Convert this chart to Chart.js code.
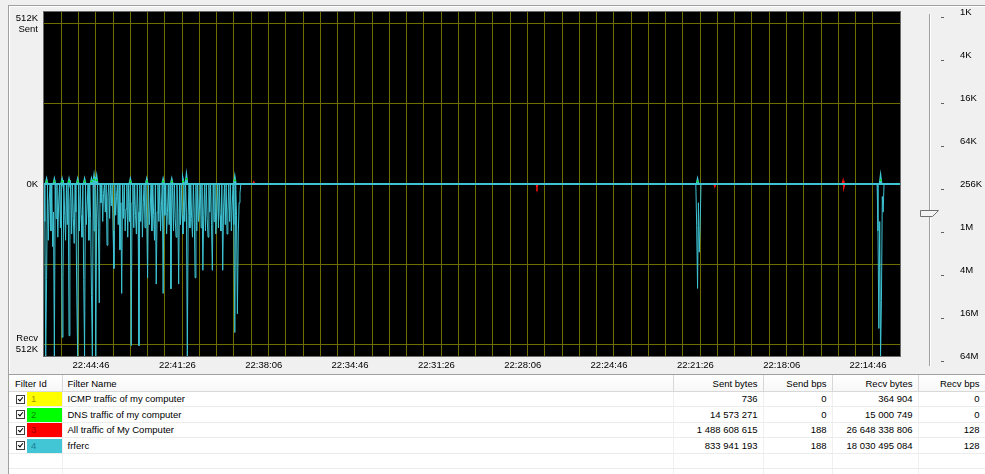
<!DOCTYPE html>
<html>
<head>
<meta charset="utf-8">
<script src="https://cdn.jsdelivr.net/npm/chart.js@4.4.0/dist/chart.umd.min.js"></script>
<style>
  html, body { margin: 0; padding: 0; }
  body { width: 985px; height: 474px; background: #f0f0f0; position: relative; overflow: hidden;
         font-family: 'Liberation Sans', Arial, sans-serif; font-size: 9.5px; color: #000; }
  #frame { position: absolute; left: 8px; top: 5px; width: 977px; height: 369px;
           border-left: 1px solid #a0a0a0; border-top: 1px solid #a0a0a0; box-shadow: inset 1px 1px 0 #fff; }
  #chartBox { position: absolute; left: 0; top: 0; width: 985px; height: 372px; }
  #tableBox { position: absolute; left: 8px; top: 374px; width: 977px; height: 100px; background: #fff;
              border-left: 1px solid #a0a0a0; border-top: 1px solid #a0a0a0; }
  table { border-collapse: collapse; table-layout: fixed; width: 976px; }
  th { height: 16px; padding: 0 5px; font-weight: normal; text-align: left; white-space: nowrap;
       background: linear-gradient(#ffffff, #f7f7f7); border-right: 1px solid #d8d8d8; border-bottom: 1px solid #d8d8d8; }
  td { height: 14px; line-height: 14px; padding: 0 5px; white-space: nowrap;
       border-right: 1px solid #f0f0f0; border-bottom: 1px solid #ececec; }
  th.num, td.num { text-align: right; }
  th.first { padding-left: 6px; }
  td.first { padding: 0; }
  .cb { display: inline-block; position: relative; width: 7px; height: 7px; margin-left: 7px; vertical-align: middle;
        border: 1px solid #404040; background: #fff; }
  .cb::after { content: ''; position: absolute; left: 2px; top: 0px; width: 2px; height: 4px;
               border-right: 1.5px solid #000; border-bottom: 1.5px solid #000; transform: rotate(40deg); }
  .sw { display: inline-block; width: 31px; height: 14px; margin-left: 2px; padding-left: 4px; vertical-align: middle; }
</style>
</head>
<body>
<div id="frame"></div>
<div id="chartBox"><canvas id="traffic" width="985" height="372"></canvas></div>
<div id="tableBox"><table id="filters"></table></div>
<script>
// time axis: seconds after 22:00:00
const baseHour = 22
const xStart = 2795   // left edge, 22:46:35
const xEnd = 812      // right edge, 22:13:32
const gridStep = 40
const gridCount = 48
const xTickLabels = ['22:44:46', '22:41:26', '22:38:06', '22:34:46', '22:31:26',
                     '22:28:06', '22:24:46', '22:21:26', '22:18:06', '22:14:46']
const yTickValues = [512, 256, 0, -256, -512]
const yTickLabels = [['512K', 'Sent'], '', '0K', '', ['Recv', '512K']]
const zoomLabels = ['1K', '4K', '16K', '64K', '256K', '1M', '4M', '16M', '64M']
const zoomLevel = 4.67

// busy period at the start, one sample every 2 s (KB, recv is negative)
const denseStep = 2
const recvDense = [
  0, -120, -550, -305, 0, -180, -60, 0, -150, 0,
  -200, -90, -550, 0, -110, 0, -170, -60, 0, -140,
  0, -490, -300, 0, -100, -180, 0, -130, 0, -485,
  -60, 0, -160, 0, -110, -190, 0, -90, -363, -550,
  0, -150, 0, -100, -170, 0, -305, -550, 0, -130,
  -70, 0, -180, 0, -110, -356, -550, 0, -150, 0,
  -550, -90, 0, -140, -380, 0, -60, 0, -120, -30,
  0, -90, 0, -196, -40, 0, -110, 0, -70, 0,
  -150, -270, 0, -100, -40, 0, -130, 0, -210, -60,
  -350, 0, -110, 0, -150, -80, 0, -170, 0, -120,
  0, -517, -60, 0, -140, 0, -100, -160, 0, -90,
  -517, 0, -120, 0, -170, -60, 0, -140, 0, -110,
  -300, 0, -130, -80, 0, -150, 0, -100, -180, 0,
  -320, -90, 0, -120, 0, -150, -70, 0, -350, 0,
  -100, 0, -160, -90, 0, -130, 0, -335, -80, 0,
  -150, 0, -110, -170, 0, -90, -320, 0, -130, 0,
  -100, -160, 0, -120, 0, -90, -550, -100, 0, -140,
  0, -110, -170, 0, -90, -300, 0, -150, 0, -120,
  -80, 0, -140, 0, -276, -100, 0, -150, 0, -110,
  -170, 0, -90, 0, -130, -276, 0, -120, 0, -160,
  -90, 0, -140, 0, -100, -150, 0, -276, -80, 0,
  -130, 0, -160, -90, 0, -120, 0, -150, -70, 0,
  -130, -475, 0, -100, -415, -160, -60, -30, 0
]
// the quiet part afterwards
const recvSparseTimes = [2335, 1285, 1283, 1281, 1279, 1277, 1275, 1273, 865, 863, 861, 859, 857, 855, 853, 851, 849, 812]
const recvSparseValues = [0, 0, -132, -334, -60, -218, -132, 0, 0, -150, -462, -120, -550, -372, -40, -90, 0, 0]
// sent side (positive), zero between the small peaks
const sentTimes = [2795, 2791, 2789, 2787, 2773, 2771, 2769, 2755, 2753, 2751, 2739, 2737, 2735,
                   2719, 2717, 2715, 2703, 2701, 2699, 2687, 2685, 2683, 2681, 2679, 2677,
                   2675, 2673, 2671, 2597, 2595, 2593, 2559, 2557, 2555, 2521, 2519, 2517,
                   2501, 2499, 2497, 2475, 2473, 2471, 2467, 2465, 2463, 2355, 2353, 2351,
                   1283, 1281, 1279, 859, 857, 855, 812]
const sentValues = [0, 0, 13, 0, 0, 13, 0, 0, 13, 0, 0, 13, 0,
                    0, 13, 0, 0, 13, 0, 0, 13, 0, 0, 22, 0,
                    0, 20, 0, 0, 13, 0, 0, 13, 0, 0, 13, 0,
                    0, 13, 0, 0, 13, 0, 0, 24, 0, 0, 19, 0,
                    0, 13, 0, 0, 22, 0, 0]
const dnsTimes = [2789, 2771, 2753, 2737, 2717, 2701, 2685, 2679, 2673, 2595, 2557, 2519, 2499, 2473, 2465, 2353, 1281, 857]
const dnsValues = [8, 8, 8, 8, 8, 8, 8, 14, 12, 8, 8, 8, 8, 8, 16, 12, 8, 12]
const allTimes = [2795, 2681, 2679, 2677, 2675, 2311, 2309, 2307, 1655, 1653, 1651, 1243, 1241, 1239, 946, 944, 942, 940, 812]
const allValues = [0, 0, 10, -6, 0, 0, 6, 0, 0, -10, 0, 0, -8, 0, 0, 10, -10, 0, 0]
const icmpTimes = [2795, 812]
const icmpValues = [0, 0]

// filter list
const filterIds = [1, 2, 3, 4]
const filterNames = ['ICMP traffic of my computer', 'DNS traffic of my computer', 'All traffic of My Computer', 'frferc']
const filterColors = ['#ffff00', '#00ff00', '#ff0000', '#42c6d6']
const filterIdColors = ['#a89400', '#008a00', '#a00000', '#1c7f92']
const sentBytes = [736, 14573271, 1488608615, 833941193]
const sendBps = [0, 0, 188, 188]
const recvBytes = [364904, 15000749, 26648338806, 18030495084]
const recvBps = [0, 0, 128, 128]

const toSec = s => { const p = s.split(':').map(Number); return (p[0] - baseHour) * 3600 + p[1] * 60 + p[2] }
const pad = n => String(n).padStart(2, '0')
const fmtTime = v => pad(baseHour + Math.floor(v / 3600)) + ':' + pad(Math.floor(v % 3600 / 60)) + ':' + pad(v % 60)
const pairs = (ts, vs) => ts.map((t, i) => ({x: t, y: vs[i]}))
const densePairs = vs => vs.map((v, i) => ({x: xStart - i * denseStep, y: v}))

const cyan = '#3ec3d3'

Chart.defaults.font.family = "'Liberation Sans', Arial, sans-serif"
Chart.defaults.font.size = 9.5
Chart.defaults.color = '#000'

const blackArea = {
  id: 'blackArea',
  beforeDraw(chart) {
    const a = chart.chartArea, c = chart.ctx
    c.save()
    c.fillStyle = '#000'
    c.fillRect(a.left, a.top, a.right - a.left, a.bottom - a.top)
    c.strokeStyle = '#6a6a6a'
    c.lineWidth = 1
    c.strokeRect(a.left - 0.5, a.top - 0.5, a.right - a.left + 1, a.bottom - a.top + 1)
    c.restore()
  }
}

// the zoom slider on the right
const slider = {
  id: 'slider',
  afterDraw(chart) {
    const s = chart.scales.zoomAxis, c = chart.ctx
    c.save()
    c.fillStyle = '#a0a0a0'
    c.fillRect(929, 14, 1, 352)
    c.fillStyle = '#ffffff'
    c.fillRect(930, 14, 1, 352)
    c.fillStyle = '#606060'
    s.ticks.forEach((t, i) => c.fillRect(941, Math.round(s.getPixelForTick(i)) + 5, 3, 1))
    const y = Math.round(s.getPixelForValue(zoomLevel)) + 0.5
    c.beginPath()
    c.moveTo(920.5, y - 3)
    c.lineTo(938.5, y - 3)
    c.lineTo(932.5, y + 3)
    c.lineTo(920.5, y + 3)
    c.closePath()
    c.fillStyle = '#f4f4f4'
    c.fill()
    c.strokeStyle = '#707070'
    c.stroke()
    c.restore()
  }
}

const lineSet = (label, data, color, width) => ({
  label, data, borderColor: color, backgroundColor: color, borderWidth: width,
  pointRadius: 0, tension: 0, fill: false, xAxisID: 'x', yAxisID: 'y'
})

const datasets = [
  Object.assign(lineSet('DNS traffic of my computer', pairs(dnsTimes, dnsValues), '#00e000', 1),
    {showLine: false, pointRadius: 1, pointBorderWidth: 0}),
  lineSet('frferc sent', pairs(sentTimes, sentValues), cyan, 2),
  lineSet('frferc recv', densePairs(recvDense).concat(pairs(recvSparseTimes, recvSparseValues)), cyan, 1),
  lineSet('All traffic of My Computer', pairs(allTimes, allValues), '#ff1010', 1.5),
  lineSet('ICMP traffic of my computer', pairs(icmpTimes, icmpValues), '#ffff00', 1)
]

const gridColor = '#6e6e00'

new Chart(document.getElementById('traffic'), {
  type: 'line',
  data: { datasets },
  options: {
    responsive: false,
    animation: false,
    events: [],
    layout: { padding: { top: 12, left: 0, right: 0, bottom: 0 } },
    plugins: { legend: { display: false }, tooltip: { enabled: false } },
    scales: {
      x: {
        type: 'linear', position: 'bottom', reverse: true, min: xEnd, max: xStart,
        grid: { color: gridColor, lineWidth: 1, drawTicks: false },
        border: { display: false },
        ticks: { display: false },
        afterBuildTicks(scale) {
          const t = []
          for (let k = 1; k <= gridCount; k++) t.push({value: xStart - k * gridStep})
          scale.ticks = t
        },
        afterFit(scale) { scale.height = 0; scale.paddingLeft = 0; scale.paddingRight = 0 }
      },
      xLab: {
        type: 'linear', position: 'bottom', reverse: true, min: xEnd, max: xStart,
        grid: { display: false, drawTicks: false },
        border: { display: false },
        ticks: { padding: 4, maxRotation: 0, autoSkip: false, callback: v => fmtTime(v) },
        afterBuildTicks(scale) { scale.ticks = xTickLabels.map(l => ({value: toSec(l)})) },
        afterFit(scale) { scale.height = 16; scale.paddingLeft = 0; scale.paddingRight = 0 }
      },
      y: {
        type: 'linear', position: 'left', min: -550, max: 550,
        grid: { color: gridColor, lineWidth: 1, drawTicks: false },
        border: { display: false },
        ticks: {
          padding: 6, autoSkip: false,
          callback: v => { const i = yTickValues.indexOf(v); return i < 0 ? '' : yTickLabels[i] }
        },
        afterBuildTicks(scale) { scale.ticks = yTickValues.map(v => ({value: v})) },
        afterFit(scale) { scale.width = 44; scale.paddingTop = 0; scale.paddingBottom = 0 }
      },
      zoomAxis: {
        type: 'category', position: 'right', labels: zoomLabels, offset: false,
        grid: { display: false, drawTicks: false },
        border: { display: false },
        ticks: { padding: 60, autoSkip: false },
        afterFit(scale) { scale.width = 85; scale.paddingTop = 0; scale.paddingBottom = 0 }
      }
    }
  },
  plugins: [blackArea, slider]
})

// filter table
const fmtNum = n => String(n).replace(/\B(?=(\d{3})+(?!\d))/g, ' ')
const colWidths = [53, 611, 90, 69, 86, 67]
const heads = ['Filter Id', 'Filter Name', 'Sent bytes', 'Send bps', 'Recv bytes', 'Recv bps']
let html = '<colgroup>' + colWidths.map(w => '<col style="width:' + w + 'px">').join('') + '</colgroup>'
html += '<tr>' + heads.map((h, i) => '<th class="' + (i === 0 ? 'first' : i > 1 ? 'num' : '') + '">' + h + '</th>').join('') + '</tr>'
filterIds.forEach((id, i) => {
  html += '<tr>' +
    '<td class="first"><span class="cb"></span><span class="sw" style="background:' + filterColors[i] +
    ';color:' + filterIdColors[i] + '">' + id + '</span></td>' +
    '<td>' + filterNames[i] + '</td>' +
    '<td class="num">' + fmtNum(sentBytes[i]) + '</td>' +
    '<td class="num">' + fmtNum(sendBps[i]) + '</td>' +
    '<td class="num">' + fmtNum(recvBytes[i]) + '</td>' +
    '<td class="num">' + fmtNum(recvBps[i]) + '</td></tr>'
})
for (let r = 0; r < 2; r++) html += '<tr>' + colWidths.map(() => '<td></td>').join('') + '</tr>'
document.getElementById('filters').innerHTML = html
</script>
</body>
</html>
